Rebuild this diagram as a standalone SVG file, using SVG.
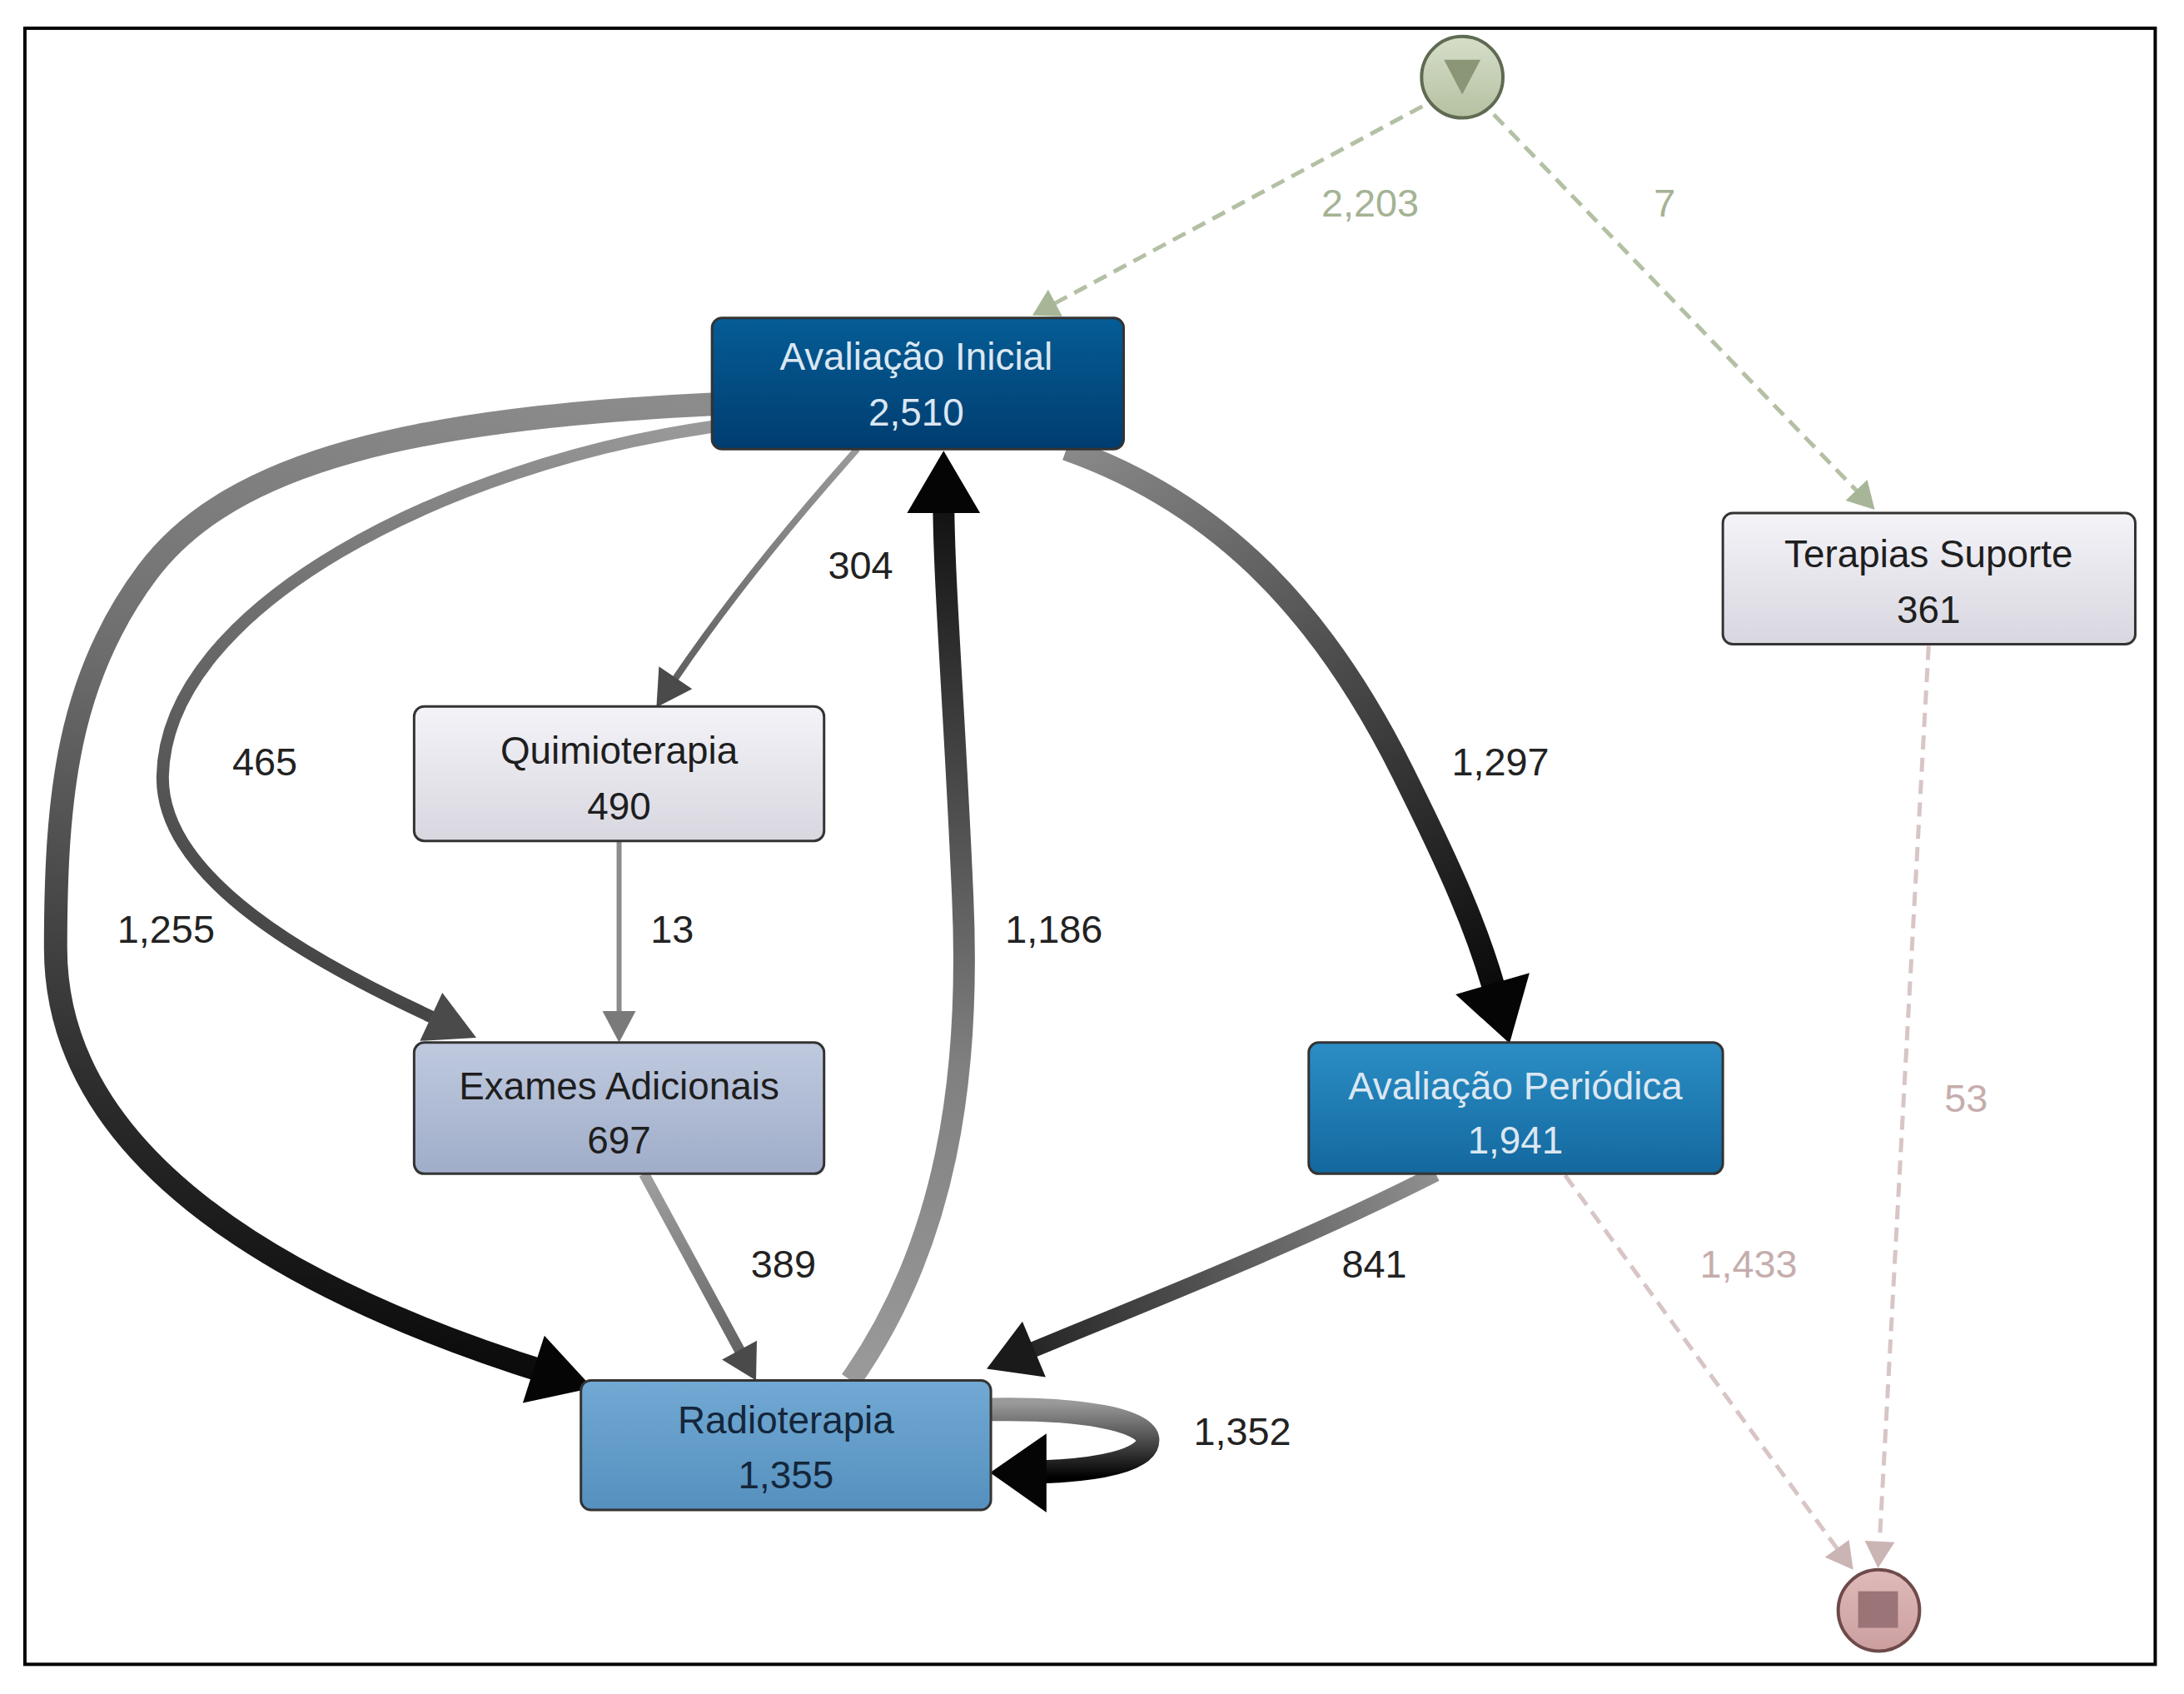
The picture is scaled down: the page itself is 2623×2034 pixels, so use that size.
<svg xmlns="http://www.w3.org/2000/svg" width="2623" height="2034" viewBox="0 0 2623 2034">
<defs>
  <linearGradient id="gAI" x1="0" y1="0" x2="0" y2="1"><stop offset="0" stop-color="#055c95"/><stop offset="1" stop-color="#003d70"/></linearGradient>
  <linearGradient id="gLight" x1="0" y1="0" x2="0" y2="1"><stop offset="0" stop-color="#f4f3f8"/><stop offset="1" stop-color="#d8d7e0"/></linearGradient>
  <linearGradient id="gEA" x1="0" y1="0" x2="0" y2="1"><stop offset="0" stop-color="#bfcadf"/><stop offset="1" stop-color="#a0adc9"/></linearGradient>
  <linearGradient id="gAP" x1="0" y1="0" x2="0" y2="1"><stop offset="0" stop-color="#2b8ec5"/><stop offset="1" stop-color="#13689e"/></linearGradient>
  <linearGradient id="gR" x1="0" y1="0" x2="0" y2="1"><stop offset="0" stop-color="#72a9d4"/><stop offset="1" stop-color="#5590be"/></linearGradient>
  <linearGradient id="gStart" x1="0" y1="0" x2="0" y2="1"><stop offset="0" stop-color="#d6dec9"/><stop offset="1" stop-color="#b5c1a1"/></linearGradient>
  <linearGradient id="gEnd" x1="0" y1="0" x2="0" y2="1"><stop offset="0" stop-color="#dfb9b9"/><stop offset="1" stop-color="#cc9f9f"/></linearGradient>
  <linearGradient id="e1255" gradientUnits="userSpaceOnUse" x1="858" y1="487" x2="714" y2="1672"><stop offset="0" stop-color="#8c8c8c"/><stop offset="0.3" stop-color="#707070"/><stop offset="1" stop-color="#0a0a0a"/></linearGradient>
  <linearGradient id="e1186" gradientUnits="userSpaceOnUse" x1="1025" y1="1663" x2="1137" y2="560"><stop offset="0" stop-color="#9a9a9a"/><stop offset="0.35" stop-color="#808080"/><stop offset="1" stop-color="#0a0a0a"/></linearGradient>
  <linearGradient id="e1297" gradientUnits="userSpaceOnUse" x1="1285" y1="541" x2="1819" y2="1257"><stop offset="0" stop-color="#8a8a8a"/><stop offset="1" stop-color="#000"/></linearGradient>
  <linearGradient id="e841" gradientUnits="userSpaceOnUse" x1="1730" y1="1414" x2="1190" y2="1650"><stop offset="0" stop-color="#909090"/><stop offset="1" stop-color="#1a1a1a"/></linearGradient>
  <linearGradient id="e465" gradientUnits="userSpaceOnUse" x1="858" y1="516" x2="574" y2="1250"><stop offset="0" stop-color="#9a9a9a"/><stop offset="1" stop-color="#454545"/></linearGradient>
  <linearGradient id="e304" gradientUnits="userSpaceOnUse" x1="1033" y1="541" x2="790" y2="851"><stop offset="0" stop-color="#9a9a9a"/><stop offset="1" stop-color="#5a5a5a"/></linearGradient>
  <linearGradient id="e389" gradientUnits="userSpaceOnUse" x1="776" y1="1414" x2="911" y2="1663"><stop offset="0" stop-color="#a0a0a0"/><stop offset="1" stop-color="#5a5a5a"/></linearGradient>
  <linearGradient id="eLoop" gradientUnits="userSpaceOnUse" x1="0" y1="1690" x2="0" y2="1780"><stop offset="0" stop-color="#9a9a9a"/><stop offset="1" stop-color="#000"/></linearGradient>
</defs>
<style>
  .node rect.box { stroke: #333; stroke-width: 3; }
  .lbl { font-family: "Liberation Sans", Arial, sans-serif; font-size: 46px; text-anchor: middle; }
  .dark { fill: #1e1e1e; }
  .light { fill: #dbe7f2; }
  .elbl { font-family: "Liberation Sans", Arial, sans-serif; font-size: 47px; text-anchor: middle; fill: #222; }
  .glbl { fill: #a4b394; }
  .plbl { fill: #c6adad; }
  .edge { fill: none; }
  .dg { fill: none; stroke: #b3c0a4; stroke-width: 5; stroke-dasharray: 17 10; }
  .dp { fill: none; stroke: #d8c5c5; stroke-width: 5; stroke-dasharray: 17 10; }
  .hg { fill: #a7b696; }
  .hp { fill: #cbb4b4; }
  .hk { fill: #050505; }
  .hd { fill: #4a4a4a; }
</style>
<g transform="scale(0.9967)">
<rect x="30" y="34" width="2567" height="1971" fill="#fff" stroke="#000" stroke-width="4"/>
<g id="connectors">
  <!-- start -> Avaliação Inicial -->
  <path class="dg" d="M 1714 128 L 1270 366"/>
  <polygon class="hg" points="1244,380 1263,349 1280,381"/>
  <!-- start -> Terapias Suporte -->
  <path class="dg" d="M 1800 138 L 2238 592"/>
  <polygon class="hg" points="2259,614 2224,603 2250,578"/>
  <!-- Terapias Suporte -> end -->
  <path class="dp" d="M 2324 778 Q 2295 1300 2265 1855"/>
  <polygon class="hp" points="2263,1889 2247,1856 2283,1858"/>
  <!-- Avaliação Periódica -> end -->
  <path class="dp" d="M 1886 1416 L 2214 1866"/>
  <polygon class="hp" points="2233,1891 2199,1876 2228,1855"/>
  <!-- AI -> Radioterapia 1,255 -->
  <path class="edge" stroke="url(#e1255)" stroke-width="28" d="M 858 487 C 504 504, 279 554, 178 689 C 82 817, 67 958, 67 1142 C 67 1428, 420 1579, 664 1655"/>
  <polygon class="hk" points="714,1672 630,1690 656,1609"/>
  <!-- AI -> Exames 465 -->
  <path class="edge" stroke="url(#e465)" stroke-width="15" d="M 858 514 C 540 560, 200 730, 196 935 C 194 1060, 380 1160, 520 1225"/>
  <polygon class="hd" points="574,1250 506,1254 533,1196"/>
  <!-- AI -> Quimio 304 -->
  <path class="edge" stroke="url(#e304)" stroke-width="8" d="M 1033 541 Q 900 690 812 820"/>
  <polygon class="hd" points="791,852 794,803 834,830"/>
  <!-- Quimio -> Exames 13 -->
  <path class="edge" stroke="#8c8c8c" stroke-width="6" d="M 746 1013 L 746 1222"/>
  <polygon fill="#7a7a7a" points="746,1256 726,1218 766,1218"/>
  <!-- Radio -> AI 1,186 -->
  <path class="edge" stroke="url(#e1186)" stroke-width="26" d="M 1025 1663 C 1140 1500, 1170 1300, 1160 1080 C 1150 850, 1137 700, 1137 600"/>
  <polygon class="hk" points="1137,543 1093,618 1181,618"/>
  <!-- AI -> AP 1,297 -->
  <path class="edge" stroke="url(#e1297)" stroke-width="28" d="M 1285 541 C 1480 610, 1600 750, 1690 930 C 1750 1050, 1780 1120, 1800 1190"/>
  <polygon class="hk" points="1819,1257 1754,1198 1843,1172"/>
  <!-- Exames -> Radio 389 -->
  <path class="edge" stroke="url(#e389)" stroke-width="13" d="M 776 1414 L 893 1630"/>
  <polygon class="hd" points="911,1663 870,1638 912,1615"/>
  <!-- AP -> Radio 841 -->
  <path class="edge" stroke="url(#e841)" stroke-width="19" d="M 1730 1414 C 1560 1500, 1380 1570, 1240 1628"/>
  <polygon fill="#1a1a1a" points="1189,1649 1232,1592 1260,1659"/>
  <!-- Radio self loop 1,352 -->
  <path class="edge" stroke="url(#eLoop)" stroke-width="28" d="M 1194 1698 C 1300 1696, 1383 1710, 1383 1735 C 1383 1760, 1320 1771, 1258 1773"/>
  <polygon class="hk" points="1193,1774 1261,1727 1261,1822"/>
  <!-- labels -->
  <text class="elbl glbl" x="1651" y="261">2,203</text>
  <text class="elbl glbl" x="2006" y="261">7</text>
  <text class="elbl plbl" x="2369" y="1339">53</text>
  <text class="elbl plbl" x="2107" y="1539">1,433</text>
  <text class="elbl" x="1037" y="697">304</text>
  <text class="elbl" x="319" y="934">465</text>
  <text class="elbl" x="810" y="1136">13</text>
  <text class="elbl" x="200" y="1136">1,255</text>
  <text class="elbl" x="1270" y="1136">1,186</text>
  <text class="elbl" x="1808" y="934">1,297</text>
  <text class="elbl" x="944" y="1539">389</text>
  <text class="elbl" x="1656" y="1539">841</text>
  <text class="elbl" x="1497" y="1741">1,352</text>
</g>
<g id="start">
  <circle cx="1762" cy="93" r="49" fill="url(#gStart)" stroke="#5f6a52" stroke-width="4"/>
  <polygon points="1740,72 1784,72 1762,114" fill="#8a9676"/>
</g>
<g id="end">
  <circle cx="2264" cy="1940" r="49" fill="url(#gEnd)" stroke="#6f4a4a" stroke-width="4"/>
  <rect x="2239" y="1917" width="48" height="44" fill="#9b7478"/>
</g>
<g id="avaliacao-inicial" class="node">
  <rect class="box" x="858" y="383" width="496" height="158" rx="12" fill="url(#gAI)"/>
  <text class="lbl light" x="1104" y="445">Avaliação Inicial</text>
  <text class="lbl light" x="1104" y="513">2,510</text>
</g>
<g id="terapias-suporte" class="node">
  <rect class="box" x="2076" y="618" width="497" height="158" rx="12" fill="url(#gLight)"/>
  <text class="lbl dark" x="2324" y="683">Terapias Suporte</text>
  <text class="lbl dark" x="2324" y="750">361</text>
</g>
<g id="quimioterapia" class="node">
  <rect class="box" x="499" y="851" width="494" height="162" rx="12" fill="url(#gLight)"/>
  <text class="lbl dark" x="746" y="920">Quimioterapia</text>
  <text class="lbl dark" x="746" y="987">490</text>
</g>
<g id="exames-adicionais" class="node">
  <rect class="box" x="499" y="1256" width="494" height="158" rx="12" fill="url(#gEA)"/>
  <text class="lbl dark" x="746" y="1324">Exames Adicionais</text>
  <text class="lbl dark" x="746" y="1390">697</text>
</g>
<g id="avaliacao-periodica" class="node">
  <rect class="box" x="1577" y="1256" width="499" height="158" rx="12" fill="url(#gAP)"/>
  <text class="lbl light" x="1826" y="1324">Avaliação Periódica</text>
  <text class="lbl light" x="1826" y="1390">1,941</text>
</g>
<g id="radioterapia" class="node">
  <rect class="box" x="700" y="1663" width="494" height="156" rx="12" fill="url(#gR)"/>
  <text class="lbl" fill="#14263a" x="947" y="1727">Radioterapia</text>
  <text class="lbl" fill="#14263a" x="947" y="1793">1,355</text>
</g>
</g>
</svg>
